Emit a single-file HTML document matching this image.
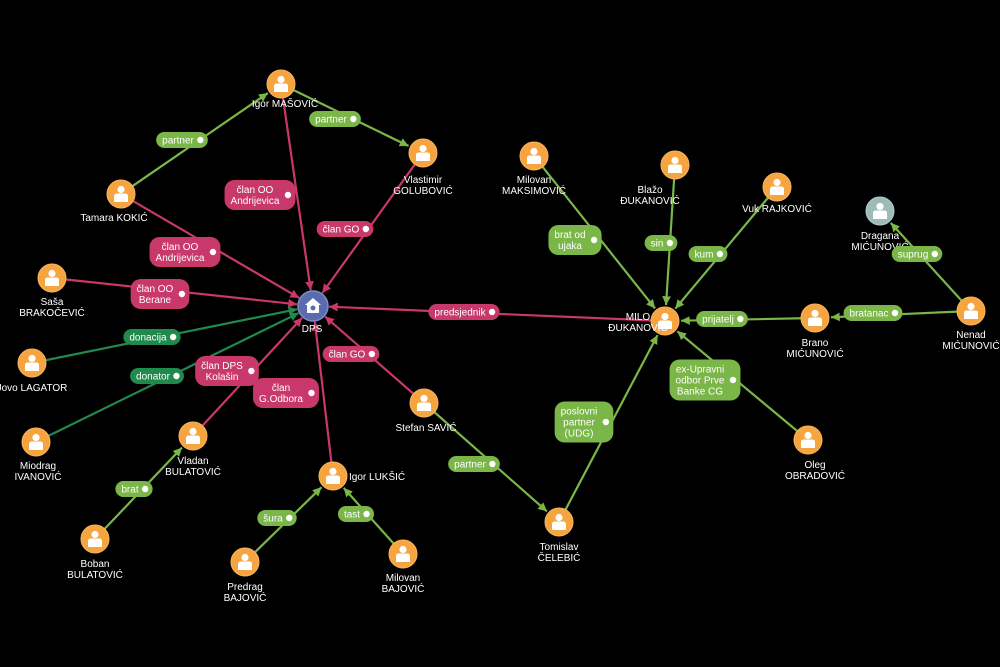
<!DOCTYPE html>
<html><head><meta charset="utf-8"><style>
html,body{margin:0;padding:0;background:#000;width:1000px;height:667px;overflow:hidden}
svg{display:block}
text{font-family:"Liberation Sans",Arial,sans-serif;font-size:10px;fill:#fff}
</style></head><body>
<svg id="s" width="1000" height="667" viewBox="0 0 1000 667" xmlns="http://www.w3.org/2000/svg">
<defs>
<marker id="ag" viewBox="0 0 10 10" refX="10" refY="5" markerWidth="4" markerHeight="4" orient="auto"><path d="M0,0L10,5L0,10z" fill="#7ab648"/></marker>
<marker id="ad" viewBox="0 0 10 10" refX="10" refY="5" markerWidth="4" markerHeight="4" orient="auto"><path d="M0,0L10,5L0,10z" fill="#1f8a4c"/></marker>
<marker id="ap" viewBox="0 0 10 10" refX="10" refY="5" markerWidth="4" markerHeight="4" orient="auto"><path d="M0,0L10,5L0,10z" fill="#c8386a"/></marker>
</defs>
<g id="edges"></g><g id="nodes"></g><g id="labels"></g>
</svg>
<script>
var N={
IM:[281,84,"Igor MAŠOVIĆ",285,107,"m"],
VG:[423,153,"Vlastimir|GOLUBOVIĆ",423,183,"m"],
TK:[121,194,"Tamara KOKIĆ",114,221,"m"],
SB:[52,278,"Saša|BRAKOČEVIĆ",52,305,"m"],
JL:[32,363,"Jovo LAGATOR",32,391,"m"],
MI:[36,442,"Miodrag|IVANOVIĆ",38,469,"m"],
VB:[193,436,"Vladan|BULATOVIĆ",193,464,"m"],
BB:[95,539,"Boban|BULATOVIĆ",95,567,"m"],
PB:[245,562,"Predrag|BAJOVIĆ",245,590,"m"],
IL:[333,476,"Igor LUKŠIĆ",349,480,"s"],
MB:[403,554,"Milovan|BAJOVIĆ",403,581,"m"],
SS:[424,403,"Stefan SAVIĆ",426,431,"m"],
TC:[559,522,"Tomislav|ČELEBIĆ",559,550,"m"],
DPS:[313,306,"DPS",312,332,"m"],
MD:[665,321,"MILO|ĐUKANOVIĆ",638,320,"m"],
MM:[534,156,"Milovan|MAKSIMOVIĆ",534,183,"m"],
BD:[675,165,"Blažo|ĐUKANOVIĆ",650,193,"m"],
VR:[777,187,"Vuk RAJKOVIĆ",777,212,"m"],
DM:[880,211,"Dragana|MIĆUNOVIĆ",880,239,"m"],
BM:[815,318,"Brano|MIĆUNOVIĆ",815,346,"m"],
NM:[971,311,"Nenad|MIĆUNOVIĆ",971,338,"m"],
OO:[808,440,"Oleg|OBRADOVIĆ",815,468,"m"]
};
var G="#7ab648",D="#1f8a4c",P="#c8386a";
var E=[
["TK","IM",G,"partner",182,140],
["IM","VG",G,"partner",335,119],
["IM","DPS",P,"član OO|Andrijevica",260,195],
["VG","DPS",P,"član GO",345,229],
["TK","DPS",P,"član OO|Andrijevica",185,252],
["SB","DPS",P,"član OO|Berane",160,294],
["JL","DPS",D,"donacija",152,337],
["MI","DPS",D,"donator",157,376],
["VB","DPS",P,"član DPS|Kolašin",227,371],
["IL","DPS",P,"član|G.Odbora",286,393],
["SS","DPS",P,"član GO",351,354],
["MD","DPS",P,"predsjednik",464,312],
["BB","VB",G,"brat",134,489],
["PB","IL",G,"šura",277,518],
["MB","IL",G,"tast",356,514],
["SS","TC",G,"partner",474,464],
["TC","MD",G,"poslovni|partner|(UDG)",584,422],
["MM","MD",G,"brat od|ujaka",575,240],
["BD","MD",G,"sin",661,243],
["VR","MD",G,"kum",708,254],
["BM","MD",G,"prijatelj",722,319],
["OO","MD",G,"ex-Upravni|odbor Prve|Banke CG",705,380],
["NM","BM",G,"bratanac",873,313],
["NM","DM",G,"suprug",917,254]
];
var NS="http://www.w3.org/2000/svg";
function el(t,a,p){var e=document.createElementNS(NS,t);for(var k in a)e.setAttribute(k,a[k]);p.appendChild(e);return e;}
var ge=document.getElementById("edges"),gn=document.getElementById("nodes"),gl=document.getElementById("labels");
E.forEach(function(e){
 var a=N[e[0]],b=N[e[1]],dx=b[0]-a[0],dy=b[1]-a[1],L=Math.hypot(dx,dy),r=16;
 var x2=b[0]-dx/L*r,y2=b[1]-dy/L*r;
 var m=e[2]==G?"ag":e[2]==D?"ad":"ap";
 el("line",{x1:a[0],y1:a[1],x2:x2,y2:y2,stroke:e[2],"stroke-width":2.2,"marker-end":"url(#"+m+")"},ge);
 var lines=e[3].split("|");
 var x=e[4],y=e[5];
 var rect=el("rect",{fill:e[2]},gl);
 var ts=[],mw=0;
 lines.forEach(function(s,i){var t=el("text",{y:y-(lines.length-1)*5.5+i*11+3.5,"text-anchor":"middle"},gl);t.textContent=s;ts.push(t);
   var l=0;try{l=t.getComputedTextLength();}catch(z){} if(!l)l=s.length*5.2; mw=Math.max(mw,l);});
 var w=mw+(lines.length==1?20:22),h=lines.length==1?16:lines.length*11+8;
 rect.setAttribute("x",x-w/2);rect.setAttribute("y",y-h/2);rect.setAttribute("width",w);rect.setAttribute("height",h);rect.setAttribute("rx",Math.min(h/2,10));
 var tx=x-w/2+6+mw/2;
 ts.forEach(function(t){t.setAttribute("x",tx);});
 el("circle",{cx:x+w/2-7.5,cy:y,r:3.2,fill:"#fff"},gl);
});
for(var k in N){var n=N[k],x=n[0],y=n[1];
 if(k=="DPS"){
  el("circle",{cx:x,cy:y,r:15,fill:"#5b6bb0",stroke:"#7e8cc8","stroke-width":1.5},gn);
  el("path",{d:"M"+(x-8)+","+(y-1)+"L"+x+","+(y-8)+"L"+(x+8)+","+(y-1)+"L"+(x+6)+","+(y-1)+"L"+(x+6)+","+(y+7)+"L"+(x-6)+","+(y+7)+"L"+(x-6)+","+(y-1)+"z",fill:"#fff"},gn);
  el("circle",{cx:x,cy:y+2,r:2.5,fill:"#5b6bb0"},gn);
 } else {
  var c=k=="DM"?"#9ebcb7":"#f6a440";
  el("circle",{cx:x,cy:y,r:14,fill:c,stroke:k=="DM"?"#b6ccc8":"#f8b560","stroke-width":1},gn);
  el("circle",{cx:x,cy:y-4.5,r:3.6,fill:"#fff"},gn);
  el("path",{d:"M"+(x-7)+","+(y+8)+"L"+(x-7)+","+(y+2)+"Q"+(x-7)+","+(y-0.5)+" "+(x-4)+","+(y-0.5)+"L"+(x+4)+","+(y-0.5)+"Q"+(x+7)+","+(y-0.5)+" "+(x+7)+","+(y+2)+"L"+(x+7)+","+(y+8)+"z",fill:"#fff"},gn);
 }
 var ls=n[2].split("|");
 ls.forEach(function(s,i){var t=el("text",{x:n[3],y:n[4]+i*11,"text-anchor":n[5]=="s"?"start":"middle"},gn);t.textContent=s;});
}
</script>
</body></html>
